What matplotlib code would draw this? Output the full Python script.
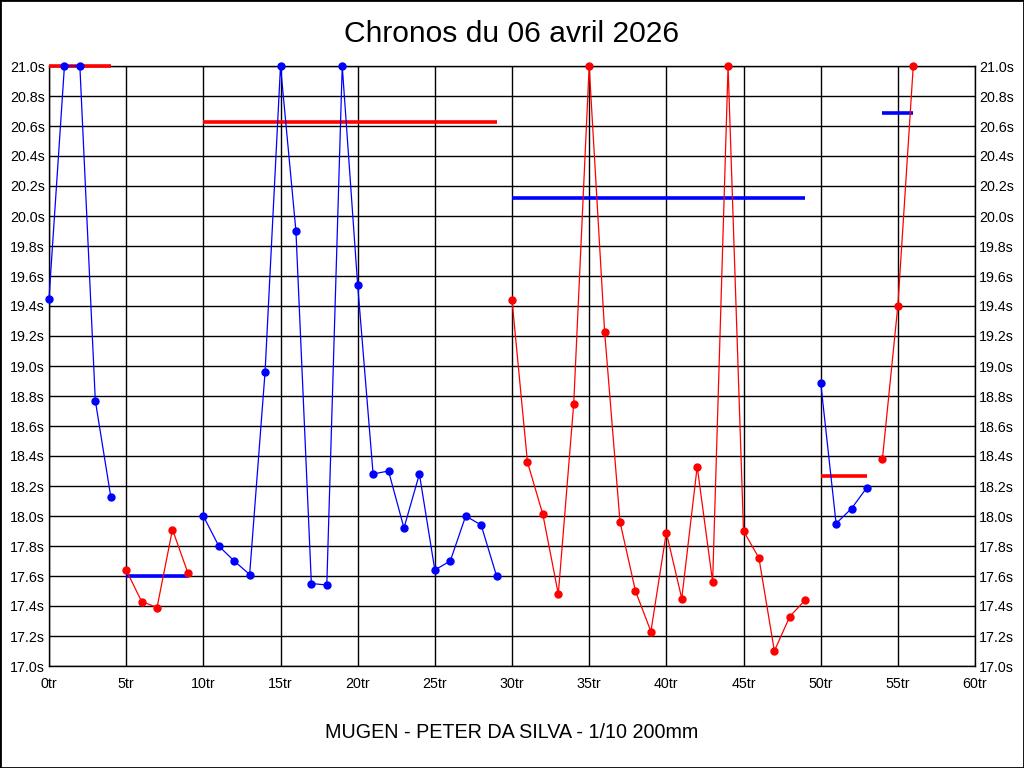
import matplotlib
matplotlib.use("Agg")
import matplotlib.pyplot as plt
from matplotlib.patches import Rectangle
from matplotlib.ticker import MultipleLocator, FuncFormatter

plt.rcParams["font.family"] = ["Liberation Sans", "DejaVu Sans"]

############################################################
# Data
############################################################

title = "Chronos du 06 avril 2026"
driver = "MUGEN - PETER DA SILVA - 1/10 200mm"

# lap times (s), lap index = position in list
lap_times = [
    19.45, 21.00, 21.00, 18.77, 18.13,
    17.64, 17.43, 17.39, 17.91, 17.62,
    18.00, 17.80, 17.70, 17.61, 18.96, 21.00, 19.90, 17.55, 17.54, 21.00,
    19.54, 18.28, 18.30, 17.92, 18.28, 17.64, 17.70, 18.00, 17.94, 17.60,
    19.44, 18.36, 18.01, 17.48, 18.75, 21.00, 19.23, 17.96, 17.50, 17.23,
    17.89, 17.45, 18.33, 17.56, 21.00, 17.90, 17.72, 17.10, 17.33, 17.44,
    18.89, 17.95, 18.05, 18.19,
    18.38, 19.40, 21.00,
]

# first and last lap of each run
seg_start = [0, 5, 10, 30, 50, 54]
seg_end = [4, 9, 29, 49, 53, 56]

# average line of each run
seg_avg = [21.00, 17.60, 20.63, 20.12, 18.27, 20.69]

BLUE = "#0000FF"
RED = "#FF0000"

############################################################
# Figure
############################################################

fig = plt.figure(figsize=(10.24, 7.68), dpi=100)
fig.patch.set_facecolor("white")

ax = fig.add_axes([49 / 1024, 102 / 768, 926 / 1024, 600 / 768])

for i, (s, e) in enumerate(zip(seg_start, seg_end)):

    laps = list(range(s, e + 1))
    vals = lap_times[s:e + 1]

    col = BLUE if i % 2 == 0 else RED
    avg_col = RED if i % 2 == 0 else BLUE

    ax.plot(laps, vals, color=col, lw=0.9, marker="o",
            markersize=5, clip_on=False, zorder=4)

    ax.plot([s, e], [seg_avg[i], seg_avg[i]], color=avg_col,
            lw=2.6, solid_capstyle="butt", clip_on=False, zorder=3)

ax.set_xlim(0, 60)
ax.set_ylim(17.0, 21.0)

ax.xaxis.set_major_locator(MultipleLocator(5))
ax.yaxis.set_major_locator(MultipleLocator(0.2))

ax.xaxis.set_major_formatter(FuncFormatter(lambda v, p: f"{v:.0f}tr"))
ax.yaxis.set_major_formatter(FuncFormatter(lambda v, p: f"{v:.1f}s"))

ax.grid(True, color="black", lw=1.0)
ax.set_axisbelow(True)

ax.tick_params(axis="both", length=0, labelsize=10.3, colors="black")
ax.tick_params(axis="y", pad=3, labelright=True, right=True)
ax.tick_params(axis="x", pad=8)

for sp in ax.spines.values():
    sp.set_color("black")
    sp.set_linewidth(1.0)

fig.text(0.5, 1 - 34 / 768, title, ha="center", va="center", fontsize=21.6)
fig.text(0.5, 1 - 733 / 768, driver, ha="center", va="center", fontsize=14.2)

fig.add_artist(Rectangle((0, 0), 1, 1, transform=fig.transFigure,
                         fill=False, edgecolor="black", lw=2))

fig.savefig("out.png", dpi=100)
